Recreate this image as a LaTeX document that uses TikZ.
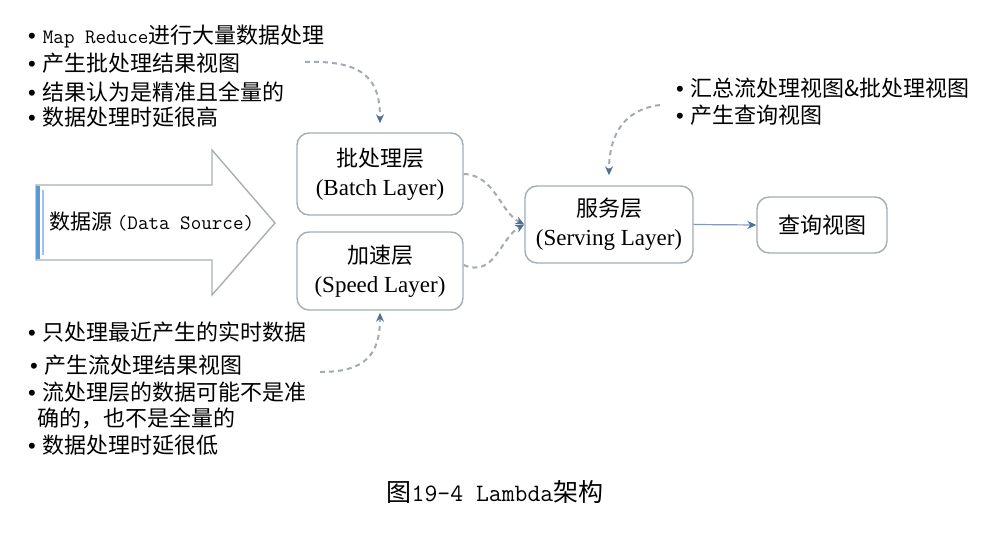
\documentclass[tikz,border=0pt]{standalone}
\usepackage{fontspec}
\setmainfont{Noto Sans CJK SC}
\newfontfamily\serifen{Liberation Serif}
\newfontfamily\bulfont{Liberation Sans}
\usetikzlibrary{arrows.meta}
\definecolor{boxline}{HTML}{A3ADB5}
\definecolor{dashgray}{HTML}{A2AAB2}
\definecolor{tipblue}{HTML}{4F6E98}
\definecolor{arrowline}{HTML}{A8B0B0}
\definecolor{edgeblue}{HTML}{5B9BD5}
\newcommand\lm[1]{{\ttfamily\fontsize{20.5}{26}\selectfont #1}}
\newcommand\bul{{\bulfont •}\hspace{7pt}}
\begin{document}
\begin{tikzpicture}[x=1pt,y=-1pt,
  layer/.style={draw=boxline, line width=1.4pt, rounded corners=12pt, fill=white,
    align=center, inner sep=0pt, font=\fontsize{22}{29}\selectfont},
  flow/.style={draw=dashgray, line width=2pt, dash pattern=on 5pt off 4pt,
    -{Stealth[length=9pt,width=8pt,color=tipblue]}},
  note/.style={anchor=base west, inner sep=0pt, font=\fontsize{22}{26}\selectfont}]
\useasboundingbox (0,0) rectangle (998,557);

% big source arrow
\draw[draw=arrowline, line width=1.4pt, fill=white, line join=miter]
  (36,185) -- (212,185) -- (212,150) -- (275,223) -- (212,295) -- (212,260) -- (36,260) -- cycle;
\draw[edgeblue, line width=4pt] (38,186) -- (38,259);
\draw[edgeblue!60, line width=1.5pt] (43,190) -- (43,255);
\node[anchor=west, inner sep=0pt, font=\fontsize{21}{26}\selectfont] (src) at (49,222)
  {数据源 \lm{(Data Source)}};

% layer boxes
\node[layer, minimum width=166pt, minimum height=82pt] (batch) at (380,174)
  {批处理层\\{\serifen\fontsize{23}{29}\selectfont (Batch Layer)}};
\node[layer, minimum width=166pt, minimum height=78pt] (speed) at (380,271)
  {加速层\\{\serifen\fontsize{23}{29}\selectfont (Speed Layer)}};
\node[layer, minimum width=168pt, minimum height=77pt] (serving) at (609,224.5)
  {服务层\\{\serifen\fontsize{23}{29}\selectfont (Serving Layer)}};
\node[layer, minimum width=130pt, minimum height=56pt] (query) at (822,225)
  {查询视图};

% connectors
\draw[flow] (batch.east) .. controls (495,175) and (500,212) .. (serving.west);
\draw[flow] ([yshift=6pt]speed.east) .. controls (495,278) and (500,238) .. (serving.west);
\draw[draw=tipblue!70, line width=1.2pt, -{Stealth[length=9pt,width=8pt,color=tipblue]}]
  (serving.east) -- (query.west);

\coordinate (topstart) at (305,62);
\coordinate (botstart) at (320,372);
\coordinate (rtstart) at (660,105);
\draw[flow, shorten >=9pt] (topstart) .. controls (365,60) and (380,80) .. (batch.north);
\draw[flow, shorten >=2pt] (botstart) .. controls (365,372) and (380,355) .. (speed.south);
\draw[flow, shorten >=10pt] (rtstart) .. controls (620,110) and (609,140) .. (serving.north);

% notes: batch
\node[note] (b1) at (28,43) {\bul\lm{Map Reduce}进行大量数据处理};
\node[note] (b2) at (28,71) {\bul 产生批处理结果视图};
\node[note] (b3) at (28,100) {\bul 结果认为是精准且全量的};
\node[note] (b4) at (28,125) {\bul 数据处理时延很高};

% notes: speed
\node[note] (s1) at (28,340) {\bul 只处理最近产生的实时数据};
\node[note] (s2) at (30,373) {\bul 产生流处理结果视图};
\node[note] (s3) at (28,400) {\bul 流处理层的数据可能不是准};
\node[note] (s3b) at (37,426) {确的，也不是全量的};
\node[note] (s4) at (28,453) {\bul 数据处理时延很低};

% notes: serving
\node[note] (v1) at (676,96) {\bul 汇总流处理视图\&批处理视图};
\node[note] (v2) at (676,123) {\bul 产生查询视图};

% caption
\node[anchor=base, inner sep=0pt, font=\fontsize{25}{30}\selectfont] (cap) at (495,501)
  {图{\ttfamily\fontsize{25}{30}\selectfont 19-4 Lambda}架构};
\end{tikzpicture}
\end{document}
